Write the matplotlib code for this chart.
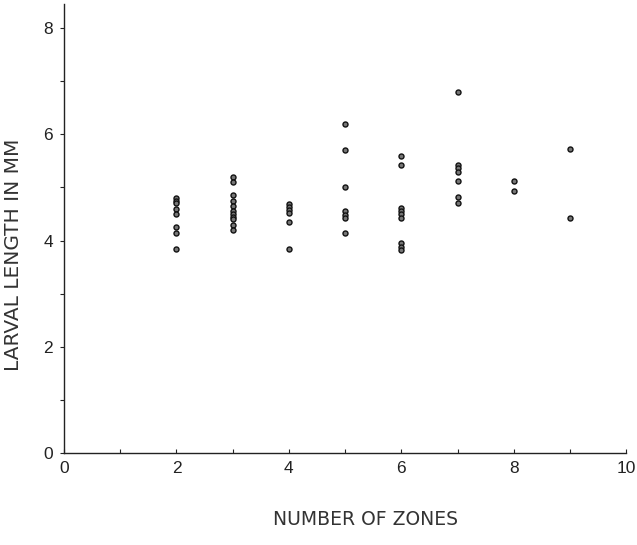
import matplotlib
matplotlib.use("Agg")
import matplotlib.pyplot as plt

# Data
zones_2 = [4.8, 4.75, 4.7, 4.6, 4.5, 4.25, 4.15, 3.85]
zones_3 = [5.2, 5.1, 4.85, 4.75, 4.65, 4.55, 4.5, 4.45, 4.4, 4.3, 4.2]
zones_4 = [4.68, 4.63, 4.58, 4.52, 4.35, 3.85]
zones_5 = [6.2, 5.7, 5.0, 4.55, 4.48, 4.42, 4.15]
zones_6 = [5.6, 5.42, 4.62, 4.56, 4.5, 4.42, 3.95, 3.88, 3.82]
zones_7 = [6.8, 5.42, 5.36, 5.3, 5.12, 4.82, 4.7]
zones_8 = [5.12, 4.93]
zones_9 = [5.72, 4.43]

groups = {2: zones_2, 3: zones_3, 4: zones_4, 5: zones_5,
          6: zones_6, 7: zones_7, 8: zones_8, 9: zones_9}

x_ticks = [0, 2, 4, 6, 8, 10]
y_ticks = [0, 2, 4, 6, 8]

plt.rcParams['font.family'] = ['Liberation Sans', 'DejaVu Sans']

fig = plt.figure(figsize=(6.37, 5.45), dpi=100)
ax = fig.add_axes([0.1005, 0.169, 0.8825, 0.823])

xs, ys = [], []
for k, vals in groups.items():
    xs.extend([k] * len(vals))
    ys.extend(vals)

ax.scatter(xs, ys, s=13, facecolor='#777777', edgecolor='#111111',
           linewidths=1.0, zorder=3)

ax.set_xlim(0, 10)
ax.set_ylim(0, 8.45)
ax.spines['top'].set_visible(False)
ax.spines['right'].set_visible(False)
for s in ['left', 'bottom']:
    ax.spines[s].set_linewidth(1.0)
    ax.spines[s].set_color('#222222')

ax.set_xticks(range(0, 11))
ax.set_xticklabels([str(v) if v in x_ticks else '' for v in range(0, 11)])
ax.set_yticks(range(0, 9))
ax.set_yticklabels([str(v) if v in y_ticks else '' for v in range(0, 9)])
ax.tick_params(axis='x', direction='in', length=3, width=0.8, pad=6,
               labelsize=12.5, colors='#222222')
ax.tick_params(axis='y', direction='out', length=3, width=0.8, pad=5,
               labelsize=12.5, colors='#222222')

ax.set_xlabel('NUMBER OF ZONES', fontsize=13.5, color='#333333',
              family=['DejaVu Sans'])
ax.set_ylabel('LARVAL LENGTH IN MM', fontsize=14.5, color='#333333',
              family=['DejaVu Sans'])
ax.xaxis.set_label_coords(0.536, -0.149)
ax.yaxis.set_label_coords(-0.089, 0.441)
ax.xaxis.label.set_va('center')
ax.yaxis.label.set_va('center')

fig.savefig('out.png', dpi=100)
